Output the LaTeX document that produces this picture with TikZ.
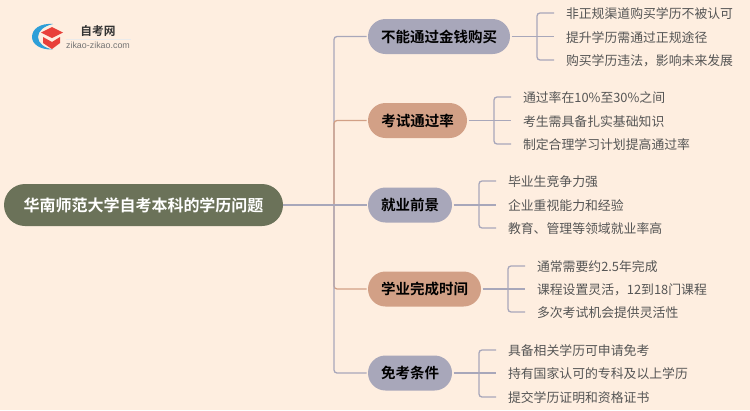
\documentclass[tikz,border=0pt]{standalone}
\usepackage{fontspec}
\setmainfont{Noto Sans CJK SC}
\newfontfamily\cjkbold{Noto Sans CJK SC Bold}
\newfontfamily\latinlogo{Liberation Sans}
\definecolor{bgc}{HTML}{FEEEE0}
\definecolor{rootc}{HTML}{6B7259}
\definecolor{purp}{HTML}{A8A7BA}
\definecolor{oran}{HTML}{D2A086}
\definecolor{leaft}{HTML}{555555}
\definecolor{logob}{HTML}{2E9FD8}
\definecolor{logor}{HTML}{E8403A}
\tikzset{
  pill/.style={rounded rectangle, minimum height=35pt, inner xsep=0pt, inner ysep=0pt, outer sep=1.5pt, text=black, text height=15pt, text depth=3.5pt, font=\cjkbold\fontsize{14.5pt}{15pt}\selectfont},
  rootbox/.style={rounded rectangle, fill=rootc, minimum height=42pt, minimum width=279pt, inner sep=0pt, text=white, outer sep=0pt, text height=16.2pt, text depth=3.8pt, font=\cjkbold\fontsize{16pt}{18pt}\selectfont},
  leaf/.style={anchor=west, inner xsep=12pt, inner ysep=0pt, outer sep=0pt, text=leaft, text height=14.9pt, text depth=3.1pt, font=\fontsize{12.85pt}{14pt}\selectfont},
  conn/.style={line width=1.3pt, rounded corners=3pt, purp},
  connor/.style={line width=1.3pt, rounded corners=3pt, oran},
}
\usetikzlibrary{shapes.misc}
\begin{document}
\begin{tikzpicture}[x=1pt,y=-1pt]
\useasboundingbox (0,0) rectangle (750,410);
\fill[bgc] (0,0) rectangle (750,410);
% logo
\fill[logob] (53,24) .. controls (40,23) and (32,29) .. (32,37) .. controls (32,44) and (40,50) .. (53,49.5) .. controls (44,48) and (38,43) .. (38,37) .. controls (38,31) and (44,26) .. (53,24) -- cycle;
\fill[logor] (41,32.5) -- (52,27) -- (63,32.5) -- (52,38) -- cycle;
\fill[logor] (43,37) -- (52,42) -- (60,37) -- (60,43) -- (52,49) -- (43,43) -- cycle;
\node[inner sep=0pt,text=black!80] (logot) at (98,31) {\cjkbold\fontsize{11.7pt}{13pt}\selectfont 自考网};
\node[inner sep=0pt,text=black!55] (logos) at (98,45) {\latinlogo\fontsize{8.9pt}{10pt}\selectfont zikao-zikao.com};
\draw[black!8,line width=0.5pt] (66,39) -- (131,39);
% nodes
\node[rootbox] (root) at (143.5,205) {华南师范大学自考本科的学历问题};
\node[pill,fill=purp,minimum width=142pt] (b1) at (439,36.5) {不能通过金钱购买};
\node[pill,fill=oran,minimum width=99pt] (b2) at (417.5,120.5) {考试通过率};
\node[pill,fill=purp,minimum width=84pt] (b3) at (410,205) {就业前景};
\node[pill,fill=oran,minimum width=113pt] (b4) at (424.5,289) {学业完成时间};
\node[pill,fill=purp,minimum width=84pt] (b5) at (410,373) {免考条件};
% leaves
\node[leaf] (l11) at (554,13) {非正规渠道购买学历不被认可};
\node[leaf] (l12) at (554,36.5) {提升学历需通过正规途径};
\node[leaf] (l13) at (554,60) {购买学历违法，影响未来发展};
\node[leaf] (l21) at (511,97) {通过率在10\%至30\%之间};
\node[leaf] (l22) at (511,120.5) {考生需具备扎实基础知识};
\node[leaf] (l23) at (511,144) {制定合理学习计划提高通过率};
\node[leaf] (l31) at (496,181) {毕业生竞争力强};
\node[leaf] (l32) at (496,205) {企业重视能力和经验};
\node[leaf] (l33) at (496,228) {教育、管理等领域就业率高};
\node[leaf] (l41) at (525,266) {通常需要约2.5年完成};
\node[leaf] (l42) at (525,289) {课程设置灵活，12到18门课程};
\node[leaf] (l43) at (525,312) {多次考试机会提供灵活性};
\node[leaf] (l51) at (496,350) {具备相关学历可申请免考};
\node[leaf] (l52) at (496,373) {持有国家认可的专科及以上学历};
\node[leaf] (l53) at (496,397) {提交学历证明和资格证书};
% trunk
\coordinate (tk) at (334,205);
\draw[conn] (tk) -- (tk |- b1.west) -- (b1.west);
\draw[connor] (tk) -- (tk |- b4.west) -- (b4.west);
\draw[conn] (tk) -- (tk |- b5.west) -- (b5.west);
\draw[connor] (tk) -- (tk |- b2.west) -- (b2.west);
\draw[conn] (root.east) -- (b3.west);
% branch brackets
\coordinate (j1) at (537,36.5);
\draw[conn] (b1.east) -- (l12.west);
\draw[conn] (l11.west) -- (j1 |- l11.west) -- (j1 |- l13.west) -- (l13.west);
\coordinate (j2) at (494,120.5);
\draw[conn] (b2.east) -- (l22.west);
\draw[conn] (l21.west) -- (j2 |- l21.west) -- (j2 |- l23.west) -- (l23.west);
\coordinate (j3) at (479,205);
\draw[conn] (b3.east) -- (l32.west);
\draw[conn] (l31.west) -- (j3 |- l31.west) -- (j3 |- l33.west) -- (l33.west);
\coordinate (j4) at (508,289);
\draw[conn] (b4.east) -- (l42.west);
\draw[conn] (l41.west) -- (j4 |- l41.west) -- (j4 |- l43.west) -- (l43.west);
\coordinate (j5) at (479,373);
\draw[conn] (b5.east) -- (l52.west);
\draw[conn] (l51.west) -- (j5 |- l51.west) -- (j5 |- l53.west) -- (l53.west);
\end{tikzpicture}
\end{document}
